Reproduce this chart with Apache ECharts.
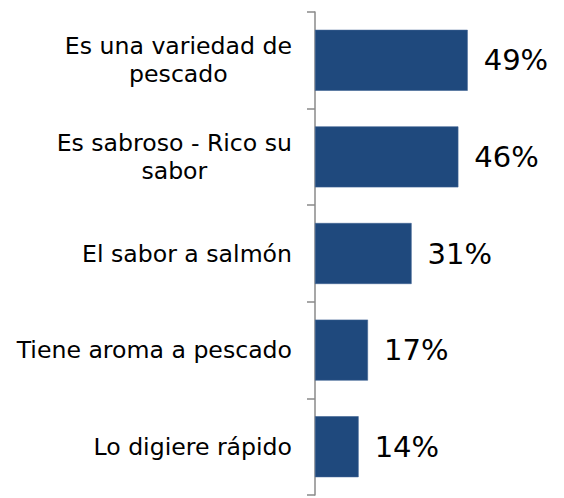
<!DOCTYPE html>
<html>
<head>
<meta charset="utf-8">
<script src="https://cdn.jsdelivr.net/npm/echarts@6/dist/echarts.min.js"></script>
<style>
  html, body { margin: 0; padding: 0; background: #fff; }
  #chart { width: 564px; height: 498px; }
</style>
</head>
<body>
<div id="chart"></div>
<script>
(function() {
  // data
  var categories = [
    'Es una variedad de\npescado',
    'Es sabroso - Rico su\nsabor',
    'El sabor a salmón',
    'Tiene aroma a pescado',
    'Lo digiere rápido'
  ];
  var values = [49, 46, 31, 17, 14];

  var barColor = '#1F497D';
  var axisGray = '#8a8a8a';
  var font = '"DejaVu Sans", Verdana, sans-serif';

  var chart = echarts.init(document.getElementById('chart'), null, { renderer: 'svg' });
  chart.setOption({
    animation: false,
    grid: { top: 12, bottom: 3, left: 315, right: 62 },
    xAxis: {
      type: 'value',
      min: 0,
      max: 60,
      show: false
    },
    yAxis: {
      type: 'category',
      inverse: true,
      data: categories,
      axisLine: { lineStyle: { color: axisGray, width: 1.5 } },
      axisTick: { show: true, length: 8, lineStyle: { color: axisGray, width: 1.5 } },
      axisLabel: {
        color: '#000',
        fontFamily: font,
        fontSize: 23.6,
        lineHeight: 28,
        margin: 23,
        formatter: function(v) {
          return v.split('\n').map(function(line) { return '{c|' + line + '}'; }).join('\n');
        },
        rich: {
          c: { align: 'center', fontFamily: font, fontSize: 23.6, lineHeight: 28, color: '#000' }
        }
      },
      splitLine: { show: false }
    },
    series: [{
      type: 'bar',
      data: values,
      barWidth: 61,
      itemStyle: { color: barColor, borderColor: '#3f6394', borderWidth: 0.6 },
      label: {
        show: true,
        position: 'right',
        distance: 16,
        color: '#000',
        fontFamily: font,
        fontSize: 29,
        formatter: '{c}%'
      }
    }]
  });
})();
</script>
</body>
</html>
